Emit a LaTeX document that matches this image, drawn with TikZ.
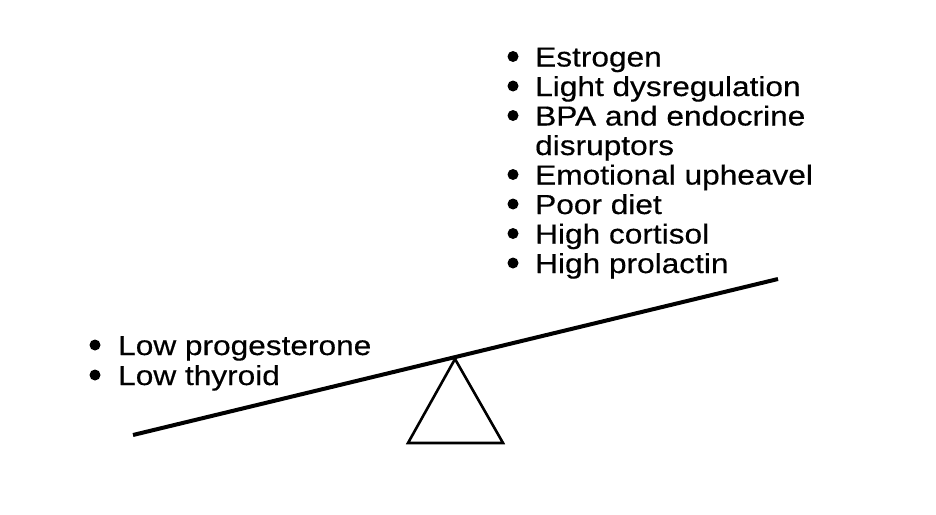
\documentclass[tikz,border=0pt]{standalone}
\usepackage{fontspec}
\setmainfont{Liberation Sans}[FakeStretch=1.15,FakeBold=0.4]
\begin{document}
\begin{tikzpicture}[x=1pt,y=-1pt,
  item/.style={anchor=base west,inner sep=0pt,font=\fontsize{27.5}{30}\selectfont},
  bul/.style={circle,fill=black,inner sep=0pt,minimum size=11pt}]
\useasboundingbox (0,0) rectangle (936,514);
% beam and fulcrum
\coordinate (bl) at (133,435);
\coordinate (br) at (778,279);
\coordinate (ta) at (455,359);
\coordinate (tl) at (408,443);
\coordinate (tr) at (503,443);
\draw[line width=2.6pt,line join=miter] (ta) -- (tl) -- (tr) -- cycle;
\draw[line width=4pt] (bl) -- (br);
% right list
\foreach \y/\t/\n/\b in {66.5/Estrogen/r1/1, 96/Light dysregulation/r2/1, 125.5/BPA and endocrine/r3/1, 155/disruptors/r4/0, 184.5/Emotional upheavel/r5/1, 214/Poor diet/r6/1, 243.5/High cortisol/r7/1, 273/High prolactin/r8/1}{
  \node[item] (\n) at (535,\y) {\t};
  \ifnum\b=1 \node[bul] (\n b) at (513,\y-10) {};\fi
}
% left list
\node[item] (l1) at (118,355) {Low progesterone};
\node[bul] (l1b) at (95,345) {};
\node[item] (l2) at (118,385) {Low thyroid};
\node[bul] (l2b) at (95,375) {};
\end{tikzpicture}
\end{document}
